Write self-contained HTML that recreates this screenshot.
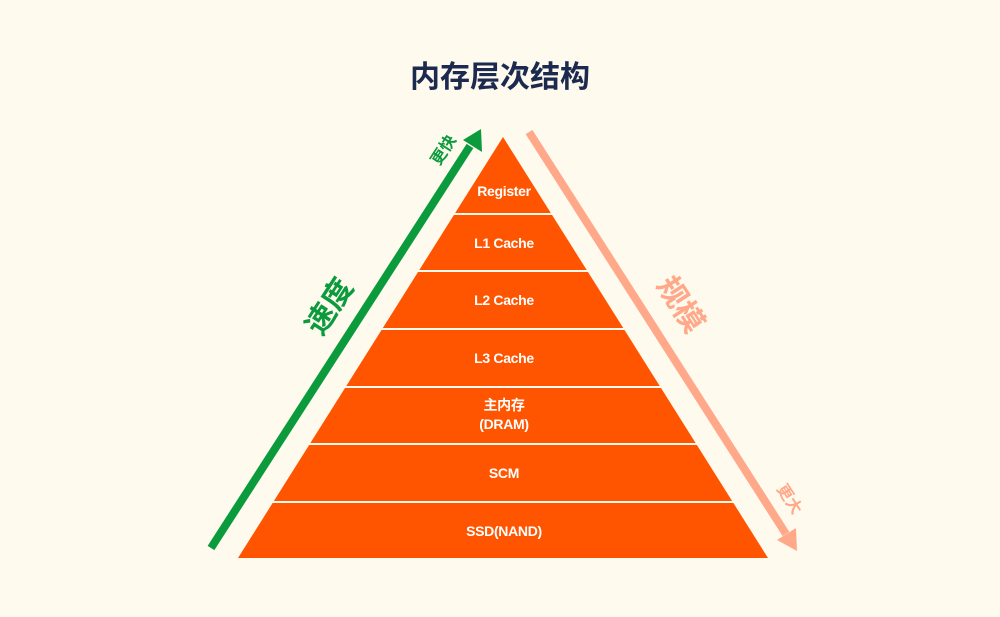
<!DOCTYPE html>
<html><head><meta charset="utf-8"><style>
html,body{margin:0;padding:0;background:#fffaee;}
svg{display:block}
text{font-family:"Liberation Sans","Noto Sans CJK SC",sans-serif;font-weight:bold}
</style></head><body>
<svg width="1000" height="617" viewBox="0 0 1000 617" xmlns="http://www.w3.org/2000/svg">
<rect width="1000" height="617" fill="#fffaee"/>
<text x="500" y="87" font-size="30" fill="#1b2a4e" text-anchor="middle">内存层次结构</text>
<polygon points="503,137 768,558 238,558" fill="#ff5500"/>
<g stroke="#fffaee" stroke-width="2">
<line x1="400" y1="214" x2="610" y2="214"/>
<line x1="380" y1="271" x2="630" y2="271"/>
<line x1="340" y1="329" x2="670" y2="329"/>
<line x1="300" y1="387" x2="710" y2="387"/>
<line x1="270" y1="444" x2="740" y2="444"/>
<line x1="230" y1="502" x2="780" y2="502"/>
</g>
<g fill="#fff" font-size="14" text-anchor="middle" letter-spacing="-0.3">
<text x="504" y="196">Register</text>
<text x="504" y="248">L1 Cache</text>
<text x="504" y="305">L2 Cache</text>
<text x="504" y="363">L3 Cache</text>
<text x="504" y="410">主内存</text>
<text x="504" y="429">(DRAM)</text>
<text x="504" y="478">SCM</text>
<text x="504" y="536">SSD(NAND)</text>
</g>
<line x1="211" y1="548" x2="470" y2="146" stroke="#0b9b3d" stroke-width="8"/>
<polygon points="481,129 482,152 463,140" fill="#0b9b3d"/>
<line x1="529" y1="132" x2="786" y2="534" stroke="#ffa98a" stroke-width="8"/>
<polygon points="797,551 777,540 796,528" fill="#ffa98a"/>
<text transform="translate(338,312) rotate(-57)" font-size="30" fill="#0b9b3d" text-anchor="middle">速度</text>
<text transform="translate(448,153) rotate(-57)" font-size="16" fill="#0b9b3d" text-anchor="middle">更快</text>
<text transform="translate(672,310) rotate(57)" font-size="30" fill="#ffa98a" text-anchor="middle">规模</text>
<text transform="translate(785,502) rotate(57)" font-size="16" fill="#ffa98a" text-anchor="middle">更大</text>
</svg>
</body></html>
